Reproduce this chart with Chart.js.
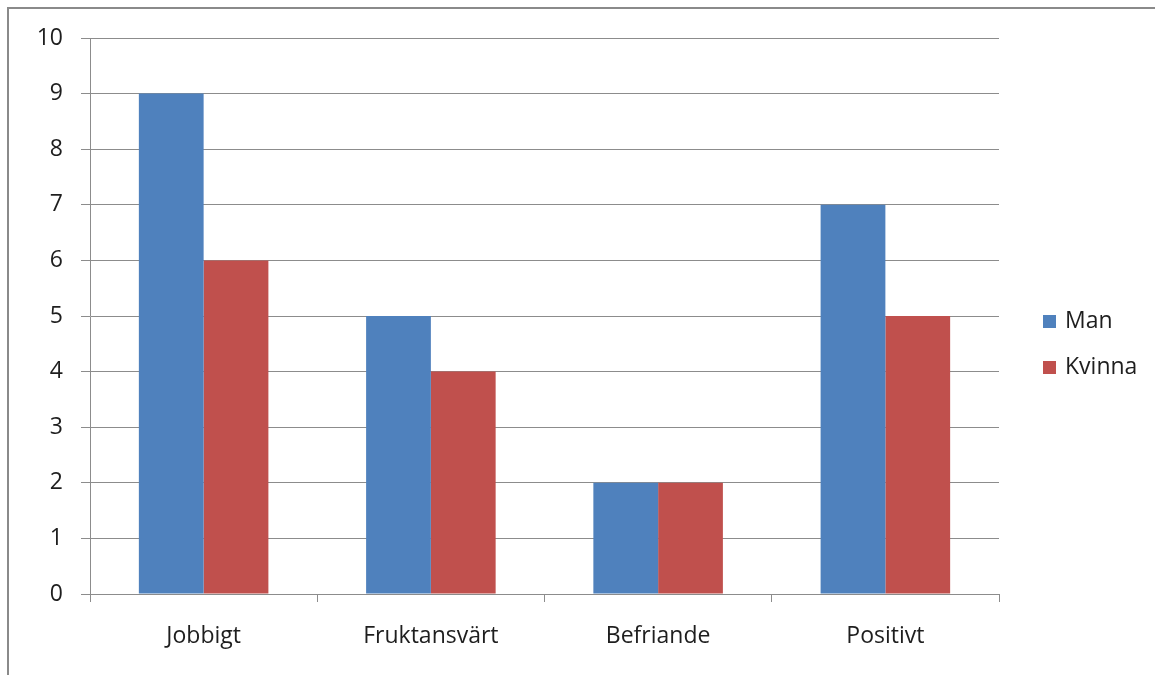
<!DOCTYPE html>
<html>
<head>
<meta charset="utf-8">
<script src="https://cdn.jsdelivr.net/npm/chart.js@4"></script>
<style>
  html, body { margin: 0; padding: 0; background: #fff; overflow: hidden; }
  #wrap { position: relative; width: 1155px; height: 675px; }
  #frame { position: absolute; left: 7px; top: 7px; width: 1200px; height: 700px;
           border-left: 2px solid #8a8a8a; border-top: 2px solid #8a8a8a; }
  canvas { position: absolute; left: 0; top: 0; }
</style>
</head>
<body>
<div id="wrap">
  <div id="frame"></div>
  <canvas id="c" width="1155" height="675"></canvas>
</div>
<script>
// Responses per category, split by gender
const categories = ['Jobbigt', 'Fruktansvärt', 'Befriande', 'Positivt'];
const manValues = [9, 5, 2, 7];
const kvinnaValues = [6, 4, 2, 5];
const seriesNames = ['Man', 'Kvinna'];
const yTicks = [0, 1, 2, 3, 4, 5, 6, 7, 8, 9, 10];

const FONT = '"Open Sans", Lato, sans-serif';
const FONT_SIZE = 23;
const GRID = '#8c8c8c';
const TEXT = '#1e1e1e';

// Legend drawn at the right-hand side, one row per series
const sideLegend = {
  id: 'sideLegend',
  afterDraw(chart) {
    const ctx = chart.ctx;
    ctx.save();
    ctx.font = FONT_SIZE + 'px ' + FONT;
    ctx.textBaseline = 'middle';
    ctx.textAlign = 'left';
    chart.data.datasets.forEach((ds, i) => {
      const cy = 321 + i * 46;
      ctx.fillStyle = ds.backgroundColor;
      ctx.fillRect(1043, cy - 6, 13, 13);
      ctx.fillStyle = TEXT;
      ctx.fillText(ds.label, 1065, cy);
    });
    ctx.restore();
  }
};

new Chart(document.getElementById('c'), {
  type: 'bar',
  data: {
    labels: categories,
    datasets: [
      { label: seriesNames[0], data: manValues, backgroundColor: '#4F81BD' },
      { label: seriesNames[1], data: kvinnaValues, backgroundColor: '#C0504D' }
    ]
  },
  options: {
    responsive: false,
    animation: false,
    devicePixelRatio: 1,
    layout: { padding: { left: 0, right: 156, top: 38, bottom: 0 } },
    datasets: { bar: { categoryPercentage: 0.57, barPercentage: 1.0 } },
    plugins: { legend: { display: false }, tooltip: { enabled: false } },
    scales: {
      x: {
        afterFit(scale) { scale.height = 81; },
        grid: { offset: true, drawOnChartArea: false, color: GRID, tickLength: 8, lineWidth: 1 },
        border: { color: GRID, width: 1 },
        ticks: { color: TEXT, font: { family: FONT, size: FONT_SIZE }, padding: 21, maxRotation: 0 }
      },
      y: {
        min: 0, max: 10,
        afterFit(scale) { scale.width = 90; },
        afterBuildTicks(scale) { scale.ticks = yTicks.map(v => ({ value: v })); },
        grid: { color: GRID, tickLength: 9, lineWidth: 1 },
        border: { color: GRID, width: 1 },
        ticks: { color: TEXT, font: { family: FONT, size: FONT_SIZE }, padding: 18 }
      }
    }
  },
  plugins: [sideLegend]
});
</script>
</body>
</html>
